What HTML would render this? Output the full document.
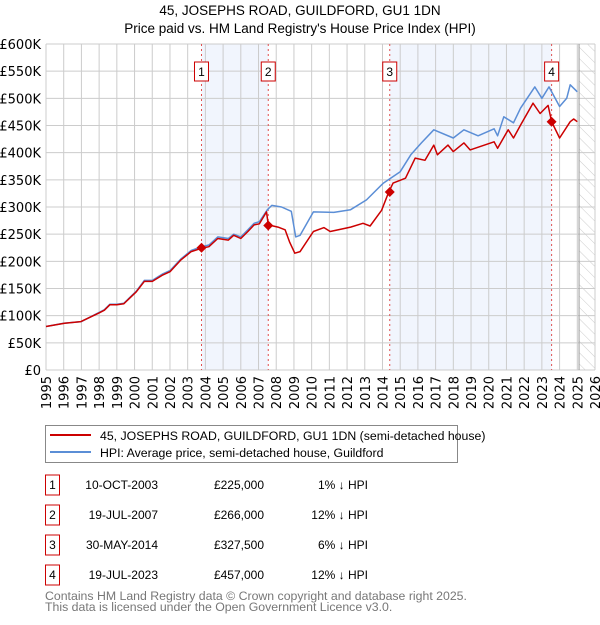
<!DOCTYPE html>
<html><head><meta charset="utf-8"><style>
body{margin:0;background:#fff;font-family:"Liberation Sans",sans-serif;}
svg text{font-family:"Liberation Sans","DejaVu Sans",sans-serif;}
svg text.dv{font-family:"DejaVu Sans","Liberation Sans",sans-serif;}
</style></head><body>
<svg id="c" width="600" height="620" xmlns="http://www.w3.org/2000/svg">
<defs><pattern id="hatch" width="8" height="8" patternUnits="userSpaceOnUse" patternTransform="rotate(-45)"><line x1="0" y1="0" x2="0" y2="8" stroke="#ccc" stroke-width="1"/></pattern></defs>
<text x="300" y="15" text-anchor="middle" font-size="13.5">45, JOSEPHS ROAD, GUILDFORD, GU1 1DN</text>
<text x="300" y="33" text-anchor="middle" font-size="13.5">Price paid vs. HM Land Registry's House Price Index (HPI)</text>
<g id="plot"></g>
<g>
<rect x="45.5" y="425.5" width="412" height="37" fill="#fff" stroke="#888"/>
<line x1="50" y1="435" x2="91" y2="435" stroke="#cc0000" stroke-width="2"/>
<text x="100" y="440" font-size="12.3">45, JOSEPHS ROAD, GUILDFORD, GU1 1DN (semi-detached house)</text>
<line x1="50" y1="452" x2="91" y2="452" stroke="#5b8ed6" stroke-width="2"/>
<text x="100" y="457" font-size="12.3">HPI: Average price, semi-detached house, Guildford</text>
</g>
<g id="table" font-size="12"></g>
<text x="45" y="600" font-size="12.3" fill="#777">Contains HM Land Registry data © Crown copyright and database right 2025.</text>
<text x="45" y="611" font-size="12.3" fill="#777">This data is licensed under the Open Government Licence v3.0.</text>
</svg>
<script>
const hpiYears=[1995,1996,1997,1998,1998.3,1998.6,1999,1999.4,2000.1,2000.55,2001,2001.6,2002,2002.6,2003.2,2003.78,2004.2,2004.7,2005.3,2005.6,2006,2006.4,2006.75,2007.05,2007.5,2007.75,2008.3,2008.85,2009.1,2009.35,2010.1,2011.25,2012.2,2013.1,2014.05,2015,2015.6,2016.2,2016.9,2018,2018.6,2019.4,2020.3,2020.5,2020.85,2021.4,2021.8,2022.6,2023.0,2023.4,2024.0,2024.4,2024.6,2025.0];
const hpiValues=[80,86,89,106,111,121,121,123,145,165,165,177,183,204,220,227,230,245,242,250,245,258,270,273,295,303,300,292,245,248,291,290,295,313,344,365,396,418,442,427,442,431,444,431,466,455,482,521,500,521,485,500,525,512];
const ppYears=[1995,1996.05,1996.97,1998,1998.3,1998.6,1999,1999.4,2000.1,2000.55,2001,2001.6,2002,2002.6,2003.2,2003.78,2004.2,2004.7,2005.3,2005.6,2006,2006.4,2006.75,2007.05,2007.45,2007.55,2008.1,2008.5,2008.75,2009.05,2009.35,2010.1,2010.7,2011.05,2012.2,2012.9,2013.3,2013.95,2014.35,2014.6,2015.3,2015.85,2016.4,2016.9,2017.1,2017.7,2018,2018.6,2018.95,2020.3,2020.5,2021.1,2021.4,2021.8,2022.5,2022.9,2023.35,2023.55,2024.0,2024.6,2024.8,2025.0];
const ppValues=[80,86,89,105,110,120,120,122,144,163,163,175,181,202,218,224,227,242,239,248,242,255,267,269,291,267,263,258,236,215,218,255,262,255,263,270,265,294,327.5,344,353,390,386,414,396,414,402,418,405,420,408,442,427,451,491,472,487,457,427,457,462,457];
const saleYears=[2003.78,2007.55,2014.41,2023.55];
const saleValues=[225,266,327.5,457];
const saleLabels=["1","2","3","4"];
const saleDates=["10-OCT-2003","19-JUL-2007","30-MAY-2014","19-JUL-2023"];
const salePrices=["£225,000","£266,000","£327,500","£457,000"];
const saleDiffs=["1% ↓ HPI","12% ↓ HPI","6% ↓ HPI","12% ↓ HPI"];
const yTicks=[0,50,100,150,200,250,300,350,400,450,500,550,600];
const yTickLabels=["£0","£50K","£100K","£150K","£200K","£250K","£300K","£350K","£400K","£450K","£500K","£550K","£600K"];
const xTicks=[1995,1996,1997,1998,1999,2000,2001,2002,2003,2004,2005,2006,2007,2008,2009,2010,2011,2012,2013,2014,2015,2016,2017,2018,2019,2020,2021,2022,2023,2024,2025,2026];
const futureStart=2025.1;

const L=46,R=595,T=44,B=370,X0=1995,X1=2026,YMAX=600;
const sx=v=>L+(v-X0)/(X1-X0)*(R-L);
const sy=v=>B-v/YMAX*(B-T);
const NS="http://www.w3.org/2000/svg";
const plot=document.getElementById('plot');
function mk(tag,attrs,parent){const e=document.createElementNS(NS,tag);for(const k in attrs)e.setAttribute(k,attrs[k]);(parent||plot).appendChild(e);return e;}

for(let i=0;i<saleYears.length;i+=2){
  const b=mk('rect',{x:sx(saleYears[i]),y:T,width:sx(saleYears[i+1])-sx(saleYears[i]),height:B-T,fill:'#eef3fc',opacity:0.8});
  
  
}
const h=mk('rect',{x:sx(futureStart),y:T,width:R-sx(futureStart),height:B-T,fill:'url(#hatch)'});


xTicks.forEach(t=>{
  const g=mk('line',{x1:sx(t),x2:sx(t),y1:T,y2:B,stroke:'#cccccc','stroke-width':1});
  
  
  const tx=mk('text',{x:0,y:0,'font-size':13,'text-anchor':'end',class:'dv',transform:`translate(${sx(t)+5},${B+6}) rotate(-90)`});
  tx.textContent=t;
  
  
});
yTicks.forEach((t,i)=>{
  const g=mk('line',{x1:L,x2:R,y1:sy(t),y2:sy(t),stroke:'#cccccc','stroke-width':1});
  
  
  const tx=mk('text',{x:L-5,y:sy(t)+5,'font-size':13,'text-anchor':'end',class:'dv'});
  tx.textContent=yTickLabels[i];
  
  
});
const fl=mk('line',{x1:sx(futureStart),x2:sx(futureStart),y1:T,y2:B,stroke:'#999','stroke-width':1});


saleYears.forEach((y,i)=>{
  const v=mk('line',{x1:sx(y),x2:sx(y),y1:T,y2:B,stroke:'#e05050','stroke-width':1,'stroke-dasharray':'2,3'});
  
  
  const bx=mk('rect',{x:sx(y)-7,y:62,width:14,height:19,fill:'#fff',stroke:'#cc0000'});
  
  
  const t=mk('text',{x:sx(y),y:76,'font-size':12,'text-anchor':'middle'});
  t.textContent=saleLabels[i];
  
  
});
const line=(xs,vs)=>xs.map((x,i)=>(i?'L':'M')+sx(x).toFixed(1)+','+sy(vs[i]).toFixed(1)).join('');
const hp=mk('path',{d:line(hpiYears,hpiValues),fill:'none',stroke:'#5b8ed6','stroke-width':1.5,'stroke-linejoin':'round'});


const pp=mk('path',{d:line(ppYears,ppValues),fill:'none',stroke:'#cc0000','stroke-width':1.5,'stroke-linejoin':'round'});


saleYears.forEach((y,i)=>{
  const cx=sx(y),cy=sy(saleValues[i]);
  const d=mk('path',{d:`M${cx},${cy-5}L${cx+5},${cy}L${cx},${cy+5}L${cx-5},${cy}Z`,fill:'#cc0000'});
  
  
});
const tb=document.getElementById('table');
saleLabels.forEach((l,i)=>{
  const yc=485+i*30;
  const r=mk('rect',{x:45.5,y:yc-10,width:14,height:20,fill:'#fff',stroke:'#cc0000'},tb);
  
  
  const cells=[[l,52.5,'middle'],[saleDates[i],158,'end'],[salePrices[i],264,'end'],[saleDiffs[i],368,'end']];
  cells.forEach(c=>{
    const t=mk('text',{x:c[1],y:yc+4,'text-anchor':c[2]},tb);
    t.textContent=c[0];
    
    
  });
});
</script>
</body></html>
